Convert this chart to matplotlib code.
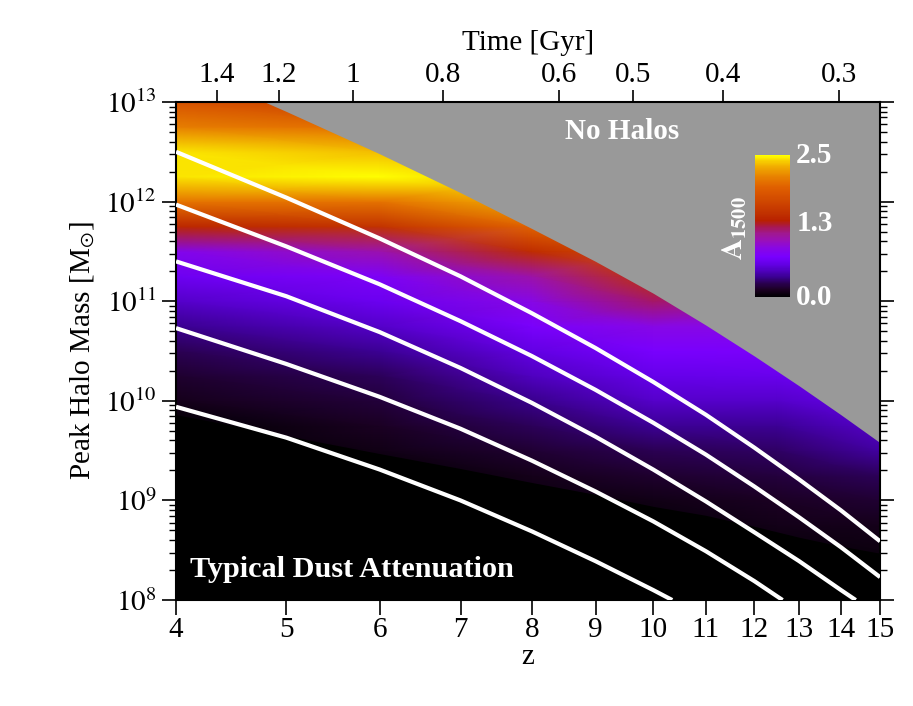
import numpy as np
import matplotlib.pyplot as plt
from matplotlib.colors import LinearSegmentedColormap

plt.rcParams['font.family'] = ['Liberation Serif', 'DejaVu Serif']
plt.rcParams['mathtext.fontset'] = 'stix'

# ---- values ----
# dust attenuation A1500 on a coarse grid (columns in z, rows in log10 peak halo mass)
grid_z = [4, 6, 8, 10, 12.5, 15]
grid_logm = [8.0, 8.25, 8.5, 8.75, 9.0, 9.25, 9.5, 9.75, 10.0, 10.25, 10.5,
             10.75, 11.0, 11.25, 11.5, 11.75, 12.0, 12.25, 12.5, 12.75, 13.0]
a1500_z4 = [0, 0, 0, 0, 0, 0, 0, 0, 0.10, 0.16, 0.25, 0.36, 0.50, 0.65, 0.82,
            1.40, 2.05, 2.45, 2.45, 2.10, 1.80]
a1500_z6 = [0, 0, 0, 0, 0, 0, 0.08, 0.13, 0.19, 0.26, 0.37, 0.50, 0.64, 0.76,
            1.03, 1.50, 2.05, 2.50, 2.35, 2.00, 1.60]
a1500_z8 = [0, 0, 0, 0, 0.05, 0.10, 0.17, 0.26, 0.35, 0.47, 0.58, 0.73, 0.85,
            1.05, 1.45, 1.95, 2.30, 2.40, 2.30, 2.00, 1.60]
a1500_z10 = [0, 0, 0, 0.03, 0.08, 0.16, 0.25, 0.37, 0.50, 0.60, 0.72, 0.85,
             1.20, 1.50, 1.80, 2.10, 2.30, 2.40, 2.30, 2.00, 1.60]
a1500_z125 = [0, 0, 0.04, 0.09, 0.13, 0.20, 0.28, 0.37, 0.50, 0.62, 0.74, 0.85,
              1.05, 1.30, 1.60, 2.00, 2.30, 2.40, 2.30, 2.00, 1.60]
a1500_z15 = [0, 0.03, 0.06, 0.10, 0.17, 0.26, 0.40, 0.50, 0.60, 0.70, 0.80,
             1.00, 1.30, 1.60, 2.00, 2.30, 2.40, 2.30, 2.00, 1.60, 1.40]

# upper edge of the halo population ("No Halos" above)
edge_z = [4.79, 5, 6, 7, 8, 9, 10, 11, 12, 13, 14, 15]
edge_logm = [13.0, 12.905, 12.48, 12.09, 11.73, 11.40, 11.08, 10.76, 10.45,
             10.15, 9.86, 9.58]

# below this mass the attenuation is zero (black)
zero_z = [4, 5, 6, 7, 8, 9, 10, 11, 12, 13, 14, 15]
zero_logm = [9.86, 9.65, 9.47, 9.32, 9.18, 9.06, 8.94, 8.85, 8.74, 8.63,
             8.54, 8.47]

# white tracks
track1_z = [4, 5, 6, 7, 8, 9, 10, 11, 12, 13, 14, 15]
track1_logm = [12.50, 12.04, 11.63, 11.25, 10.88, 10.53, 10.19, 9.86, 9.53,
               9.21, 8.90, 8.59]
track2_z = [4, 5, 6, 7, 8, 9, 10, 11, 12, 13, 14, 15]
track2_logm = [11.97, 11.55, 11.17, 10.80, 10.45, 10.11, 9.78, 9.46, 9.14,
               8.83, 8.53, 8.23]
track3_z = [4, 5, 6, 7, 8, 9, 10, 11, 12, 13, 14, 14.37]
track3_logm = [11.40, 11.05, 10.69, 10.33, 9.98, 9.64, 9.31, 8.99, 8.68,
               8.39, 8.10, 8.0]
track4_z = [4, 5, 6, 7, 8, 9, 10, 11, 12, 12.62]
track4_logm = [10.73, 10.37, 10.04, 9.72, 9.40, 9.09, 8.79, 8.49, 8.19, 8.0]
track5_z = [4, 5, 6, 7, 8, 9, 10, 10.35]
track5_logm = [9.94, 9.63, 9.31, 9.00, 8.69, 8.39, 8.10, 8.0]

z_ticks = [4, 5, 6, 7, 8, 9, 10, 11, 12, 13, 14, 15]
time_ticks = [1.4, 1.2, 1.0, 0.8, 0.6, 0.5, 0.4, 0.3]
time_labels = ['1.4', '1.2', '1', '0.8', '0.6', '0.5', '0.4', '0.3']
mass_ticks = [8, 9, 10, 11, 12, 13]


def u(z):
    return np.log10(1 + np.asarray(z, dtype=float))


# flat LCDM, for the time axis on top
h0, om = 67.8, 0.307
ol = 1 - om
t_pref = 977.8 / h0 * 2 / (3 * np.sqrt(ol))


def z_of_t(t):
    x = np.sinh(np.asarray(t) / t_pref) / np.sqrt(ol / om)
    return x ** (-2 / 3) - 1


cmap = LinearSegmentedColormap.from_list('a1500', [
    (0.00 / 2.5, '#000000'), (0.12 / 2.5, '#1a0020'), (0.24 / 2.5, '#2a0050'),
    (0.35 / 2.5, '#3a0090'), (0.47 / 2.5, '#5000c0'), (0.59 / 2.5, '#6500e8'),
    (0.71 / 2.5, '#7800ff'), (0.88 / 2.5, '#8a08e0'), (1.00 / 2.5, '#9a10b8'),
    (1.12 / 2.5, '#a01890'), (1.24 / 2.5, '#a81850'), (1.35 / 2.5, '#b82000'),
    (1.47 / 2.5, '#c03000'), (1.70 / 2.5, '#d04800'), (1.94 / 2.5, '#e06000'),
    (2.12 / 2.5, '#e88000'), (2.29 / 2.5, '#f0a800'), (2.41 / 2.5, '#f8d000'),
    (2.50 / 2.5, '#ffff00')])

fig = plt.figure(figsize=(9.13, 7.06), dpi=100)
ax = fig.add_axes([0.1928, 0.1501, 0.7711, 0.7054])

X, Y = np.meshgrid(u(grid_z), grid_logm)
C = np.array([a1500_z4, a1500_z6, a1500_z8, a1500_z10, a1500_z125, a1500_z15]).T
mesh = ax.pcolormesh(X, Y, C, shading='gouraud', cmap=cmap, vmin=0, vmax=2.5)

ax.fill_between(u(edge_z), edge_logm, 13.5, color='#999999', lw=0, zorder=2)
ax.fill_between(u(zero_z), 7.5, zero_logm, color='black', lw=0, zorder=2)

for tz, tm in [(track1_z, track1_logm), (track2_z, track2_logm),
               (track3_z, track3_logm), (track4_z, track4_logm),
               (track5_z, track5_logm)]:
    ax.plot(u(tz), tm, color='white', lw=3, solid_capstyle='butt',
            solid_joinstyle='round', zorder=3)

ax.set_xlim(u(4), u(15))
ax.set_ylim(8, 13)
ax.set_xticks(u(z_ticks))
ax.set_xticklabels([str(z) for z in z_ticks])
ax.set_yticks(mass_ticks)
ax.set_yticklabels([r'$10^{%d}$' % m for m in mass_ticks])
minor = [m + np.log10(k) for m in mass_ticks[:-1] for k in range(2, 10)]
ax.set_yticks(minor, minor=True)
ax.tick_params(axis='x', which='major', direction='out', length=11, width=1.2,
               labelsize=21, pad=1, top=False)
ax.tick_params(axis='y', which='major', direction='out', length=10, width=1.2,
               labelsize=21, right=True, pad=4)
ax.tick_params(axis='y', which='minor', direction='out', length=5, width=1,
               right=True)
for s in ax.spines.values():
    s.set_linewidth(1.5)
ax.set_xlabel('z', fontsize=21, labelpad=1)
ax.set_ylabel(r'Peak Halo Mass [M$_{\odot}$]', fontsize=21, labelpad=6)

top = ax.twiny()
top.set_xlim(ax.get_xlim())
top.set_xticks(u(z_of_t(time_ticks)))
top.set_xticklabels(time_labels)
top.tick_params(axis='x', direction='out', length=9, width=1.2, labelsize=21,
                pad=1)
top.set_xlabel('Time [Gyr]', fontsize=21, labelpad=9)
for s in top.spines.values():
    s.set_visible(False)

fig.text(0.681, 0.814, 'No Halos', color='white', fontsize=21,
         fontweight='bold', ha='center', va='center')
fig.text(0.208, 0.193, 'Typical Dust Attenuation', color='white', fontsize=21.8,
         fontweight='bold', ha='left', va='center')

cax = fig.add_axes([0.827, 0.579, 0.038, 0.201])
cb = fig.colorbar(mesh, cax=cax)
cb.set_ticks([])
cb.outline.set_visible(False)
for val, lab in [(2.5, '2.5'), (1.3, '1.3'), (0.0, '0.0')]:
    yy = 0.579 + 0.201 * val / 2.5
    fig.text(0.872, yy, lab, color='white', fontsize=21, fontweight='bold',
             ha='left', va='center')
fig.text(0.805, 0.677, r'$\mathbf{A_{1500}}$', color='white', fontsize=21,
         rotation=90, ha='center', va='center')

fig.savefig('out.png', dpi=100)
